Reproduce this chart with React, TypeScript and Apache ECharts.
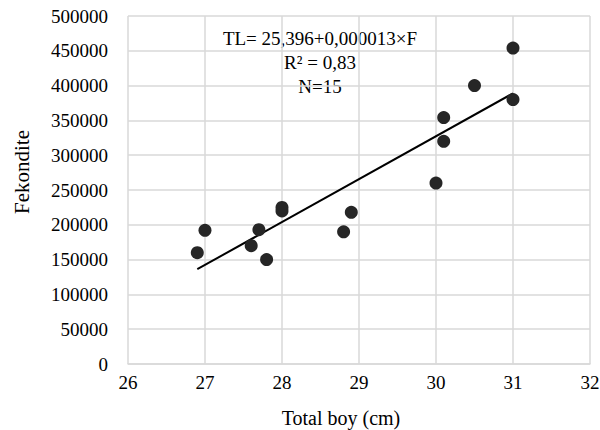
import React, { useEffect, useRef } from "react";
import * as echarts from "echarts";

const totalLength = [26.9, 27.0, 27.6, 27.7, 27.8, 28.0, 28.0, 28.8, 28.9, 30.0, 30.1, 30.1, 30.5, 31.0, 31.0];
const fecundity = [160000, 192000, 170000, 193000, 150000, 220000, 225000, 190000, 218000, 260000, 320000, 354000, 400000, 380000, 454000];
const annotationLines = ["TL= 25,396+0,000013×F", "R² = 0,83", "N=15"];

const FONT = "Liberation Serif";

export default function App() {
  const ref = useRef<HTMLDivElement>(null);
  useEffect(() => {
    if (!ref.current) return;
    const chart = echarts.init(ref.current, undefined, { renderer: "svg" });
    const pts = totalLength.map((x, i) => [x, fecundity[i]]);
    const n = pts.length;
    const mx = totalLength.reduce((a, b) => a + b, 0) / n;
    const my = fecundity.reduce((a, b) => a + b, 0) / n;
    let sxy = 0, sxx = 0;
    pts.forEach(([x, y]) => { sxy += (x - mx) * (y - my); sxx += (x - mx) * (x - mx); });
    const slope = sxy / sxx;
    const icpt = my - slope * mx;
    const xmin = Math.min(...totalLength);
    const xmax = Math.max(...totalLength);
    const trend = [[xmin, icpt + slope * xmin], [xmax, icpt + slope * xmax]];
    chart.setOption({
      animation: false,
      backgroundColor: "#ffffff",
      textStyle: { fontFamily: FONT },
      grid: { left: 128, right: 10, top: 16, bottom: 66, outerBoundsMode: "none", containLabel: false },
      xAxis: {
        type: "value", min: 26, max: 32, interval: 1,
        name: "Total boy (cm)", nameLocation: "middle", nameGap: 44,
        nameTextStyle: { fontFamily: FONT, fontSize: 20, color: "#000", padding: [0, 36, 0, 0] },
        axisLine: { show: true, lineStyle: { color: "#d9d9d9", width: 1.5 } },
        axisTick: { show: false },
        axisLabel: { fontFamily: FONT, fontSize: 19, color: "#000", margin: 9, formatter: (v: number) => String(v) },
        splitLine: { show: true, lineStyle: { color: "#d9d9d9", width: 1.5 } },
      },
      yAxis: {
        type: "value", min: 0, max: 500000, interval: 50000,
        name: "Fekondite", nameLocation: "middle", nameGap: 96,
        nameTextStyle: { fontFamily: FONT, fontSize: 21, color: "#000", padding: [0, 0, 0, 36] },
        axisLine: { show: false },
        axisTick: { show: false },
        axisLabel: { fontFamily: FONT, fontSize: 19, color: "#000", margin: 20, formatter: (v: number) => String(v) },
        splitLine: { show: true, lineStyle: { color: "#d9d9d9", width: 1.5 } },
      },
      series: [
        {
          type: "line", data: trend, symbol: "none", silent: true,
          lineStyle: { color: "#000", width: 2 }, z: 3,
        },
        {
          type: "scatter", data: pts, symbolSize: 13,
          itemStyle: { color: "#262626", opacity: 1 }, z: 4,
        },
      ],
      graphic: annotationLines.map((t, i) => ({
        type: "text", x: 320, y: 38 + i * 24,
        style: { text: t, fontFamily: FONT, fontSize: 19, fill: "#000", textAlign: "center", textVerticalAlign: "middle" },
      })),
    });
    return () => chart.dispose();
  }, []);
  return (
    <>
      <style>{".serif-chart text { font-family: 'Liberation Serif', 'Times New Roman', serif !important; }"}</style>
      <div className="serif-chart" ref={ref} style={{ width: 600, height: 430, position: "absolute", left: 0, top: 0 }} />
    </>
  );
}
